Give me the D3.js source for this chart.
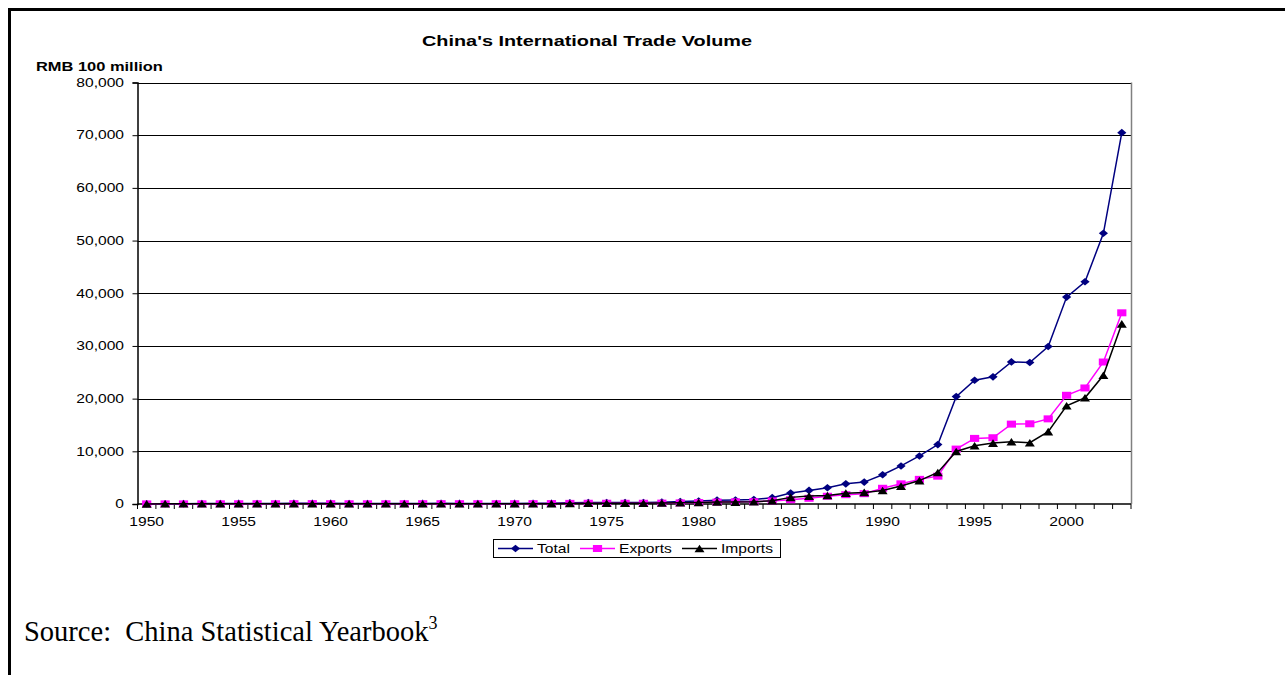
<!DOCTYPE html>
<html>
<head>
<meta charset="utf-8">
<script src="https://cdn.jsdelivr.net/npm/d3@7"></script>
<style>
  html, body { margin: 0; padding: 0; background: #fff; }
  svg { display: block; }
</style>
</head>
<body>
<svg id="chart" width="1285" height="675"></svg>
<script>
// China's international trade, RMB 100 million, 1950-2003
const years = d3.range(1950, 2004);
const total = [41.5, 59.5, 64.6, 80.9, 84.7, 109.8, 108.7, 104.5, 128.7, 149.3,
  128.4, 90.7, 80.9, 85.7, 97.5, 118.4, 127.1, 112.2, 108.5, 107.0,
  112.9, 120.9, 146.9, 220.5, 292.2, 290.4, 264.1, 272.5, 355.0, 454.6,
  570.0, 735.3, 771.3, 860.1, 1201.0, 2066.7, 2580.4, 3084.2, 3821.8, 4155.9,
  5560.1, 7225.8, 9119.6, 11271.0, 20381.9, 23499.9, 24133.8, 26967.2, 26849.7, 29896.2,
  39273.2, 42183.6, 51378.2, 70483.5];
const exportsVals = [20.2, 24.2, 27.1, 34.8, 40.0, 48.7, 55.7, 54.5, 67.0, 78.1,
  63.3, 47.7, 47.1, 50.0, 55.4, 63.1, 66.0, 58.8, 57.6, 59.8,
  56.8, 68.5, 82.9, 116.9, 139.4, 143.0, 134.8, 139.7, 167.6, 211.7,
  271.2, 367.6, 413.8, 438.3, 580.5, 808.9, 1082.1, 1470.0, 1766.7, 1956.0,
  2985.8, 3827.1, 4676.3, 5284.8, 10421.8, 12451.8, 12576.4, 15160.7, 15223.6, 16159.8,
  20634.4, 22024.4, 26947.9, 36287.9];
const importsVals = [21.3, 35.3, 37.5, 46.1, 44.7, 61.1, 53.0, 50.0, 61.7, 71.2,
  65.1, 43.0, 33.8, 35.7, 42.1, 55.3, 61.1, 53.4, 50.9, 47.2,
  56.1, 52.4, 64.0, 103.6, 152.8, 147.4, 129.3, 132.8, 187.4, 242.9,
  298.8, 367.7, 357.5, 421.8, 620.5, 1257.8, 1498.3, 1614.2, 2055.1, 2199.9,
  2574.3, 3398.7, 4443.3, 5986.2, 9960.1, 11048.1, 11557.4, 11806.5, 11626.1, 13736.4,
  18638.8, 20159.2, 24430.3, 34195.6];
const yTicks = [0, 10000, 20000, 30000, 40000, 50000, 60000, 70000, 80000];
const labelYears = [1950, 1955, 1960, 1965, 1970, 1975, 1980, 1985, 1990, 1995, 2000];
const seriesNames = ["Total", "Exports", "Imports"];

// marker shapes (half-width, half-height), drawn wider than tall
const diamond = (w, h) => `M0,${-h}L${w},0L0,${h}L${-w},0Z`;
const square = (w, h) => `M${-w},${-h}H${w}V${h}H${-w}Z`;
const triangle = (w, h) => `M0,${-h}L${w},${h}L${-w},${h}Z`;

const series = [
  { name: seriesNames[0], values: total, color: "#000080", marker: diamond(4.6, 3.8) },
  { name: seriesNames[1], values: exportsVals, color: "#FF00FF", marker: square(4.6, 3.5) },
  { name: seriesNames[2], values: importsVals, color: "#000000", marker: triangle(5, 3.8) }
];

const svg = d3.select("#chart");
const font = "Arial, 'Liberation Sans', sans-serif";
const SX = 1.3; // chart lettering is set wide

// text helper: lettering stretched horizontally around its anchor point
function wideText(parent, x, y, str, opts = {}) {
  return parent.append("text")
    .attr("transform", `translate(${x},${y}) scale(${opts.sx || SX},1)`)
    .attr("text-anchor", opts.anchor || "start")
    .attr("font-family", font)
    .attr("font-size", opts.size || 12)
    .attr("font-weight", opts.weight || "normal")
    .attr("fill", "#000")
    .text(str);
}

// page frame (top and left edges)
svg.append("line").attr("x1", 8).attr("x2", 1285).attr("y1", 9.5).attr("y2", 9.5)
  .attr("stroke", "#000").attr("stroke-width", 3);
svg.append("line").attr("x1", 9.5).attr("x2", 9.5).attr("y1", 8).attr("y2", 675)
  .attr("stroke", "#000").attr("stroke-width", 3);

const plot = { left: 137.5, right: 1131, top: 82.5, bottom: 504 };

const x = d3.scaleBand().domain(years).range([plot.left, plot.right]).paddingInner(0).paddingOuter(0);
const y = d3.scaleLinear().domain([0, 80000]).range([plot.bottom, plot.top]);
const cx = yr => x(yr) + x.bandwidth() / 2;

// gridlines
svg.append("g").selectAll("line").data(yTicks.filter(d => d > 0)).join("line")
  .attr("x1", plot.left).attr("x2", plot.right)
  .attr("y1", d => Math.round(y(d)) + 0.5).attr("y2", d => Math.round(y(d)) + 0.5)
  .attr("stroke", "#000").attr("stroke-width", 1);

// right edge of plot area
svg.append("line").attr("x1", plot.right + 0.5).attr("x2", plot.right + 0.5)
  .attr("y1", plot.top).attr("y2", plot.bottom)
  .attr("stroke", "#808080").attr("stroke-width", 1.5);

// y axis
const yAxis = svg.append("g").attr("transform", `translate(${plot.left},0)`)
  .call(d3.axisLeft(y).tickValues(yTicks).tickSize(5).tickFormat(""));
yAxis.select(".domain").attr("stroke", "#000").attr("stroke-width", 1.5);
yAxis.selectAll(".tick line").attr("stroke", "#000");
const yfmt = d3.format(",");
yTicks.forEach(v => {
  wideText(svg, 124, y(v) + 4.3, yfmt(v), { anchor: "end" });
});

// x axis: ticks at category boundaries, labels every five years
const xg = svg.append("g");
xg.append("line").attr("x1", plot.left).attr("x2", plot.right)
  .attr("y1", plot.bottom).attr("y2", plot.bottom)
  .attr("stroke", "#000").attr("stroke-width", 1.5);
xg.selectAll("line.tk").data(years.concat([2004])).join("line").attr("class", "tk")
  .attr("x1", d => d === 2004 ? plot.right : x(d))
  .attr("x2", d => d === 2004 ? plot.right : x(d))
  .attr("y1", plot.bottom).attr("y2", plot.bottom + 5)
  .attr("stroke", "#000");
labelYears.forEach(yr => {
  wideText(xg, cx(yr), plot.bottom + 21.5, yr, { anchor: "middle" });
});

// title and unit label
wideText(svg, 587, 45.5, "China's International Trade Volume", { anchor: "middle", size: 14.2, weight: "bold", sx: 1.4 });
wideText(svg, 36, 71, "RMB 100 million", { size: 12, weight: "bold", sx: 1.37 });

// series lines and markers
const line = d3.line().x((d, i) => cx(years[i])).y(d => y(d));
series.forEach(s => {
  const g = svg.append("g");
  g.append("path").datum(s.values).attr("d", line)
    .attr("fill", "none").attr("stroke", s.color).attr("stroke-width", 1.5);
  g.selectAll("path.m").data(s.values).join("path").attr("class", "m")
    .attr("d", s.marker)
    .attr("transform", (d, i) => `translate(${cx(years[i])},${y(d)})`)
    .attr("fill", s.color);
});

// legend
const lg = svg.append("g");
lg.append("rect").attr("x", 493.5).attr("y", 539.5).attr("width", 287).attr("height", 18)
  .attr("fill", "#fff").attr("stroke", "#000").attr("stroke-width", 1);
const legendX = [498, 580, 682];
series.forEach((s, i) => {
  const x0 = legendX[i];
  lg.append("line").attr("x1", x0).attr("x2", x0 + 35).attr("y1", 548.5).attr("y2", 548.5)
    .attr("stroke", s.color).attr("stroke-width", 1.5);
  lg.append("path").attr("d", s.marker)
    .attr("transform", `translate(${x0 + 17.5},548.5)`).attr("fill", s.color);
  wideText(lg, x0 + 39, 553, s.name);
});

// source note
const src = svg.append("text").attr("x", 24).attr("y", 641)
  .attr("font-family", "'Liberation Serif', 'Times New Roman', serif").attr("font-size", 28.5);
src.append("tspan").text("Source:\u00A0 China Statistical Yearbook");
src.append("tspan").attr("font-size", 18).attr("dy", -12).text("3");
</script>
</body>
</html>
